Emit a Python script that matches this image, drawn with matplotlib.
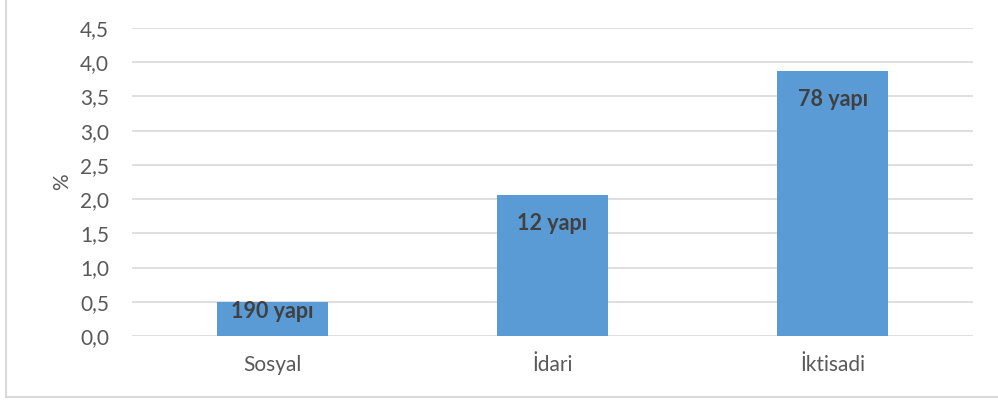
import matplotlib.pyplot as plt
from matplotlib.lines import Line2D

categories = ['Sosyal', 'İdari', 'İktisadi']
values = [0.49, 2.06, 3.87]
labels = ['190 yapı', '12 yapı', '78 yapı']
yticks = [0.0, 0.5, 1.0, 1.5, 2.0, 2.5, 3.0, 3.5, 4.0, 4.5]

plt.rcParams['font.family'] = ['Lato', 'DejaVu Sans']

fig = plt.figure(figsize=(9.98, 4.05), dpi=100)
ax = fig.add_axes([132/998, (405-336)/405, (973-132)/998, (336-28)/405])

x = range(len(categories))
ax.bar(x, values, width=0.395, color='#5b9bd5', zorder=3)

# labels inside bar top (clamped for short bars)
for i, (v, t) in enumerate(zip(values, labels)):
    y = max(v - 0.41, 0.36)
    ax.text(i, y, t, ha='center', va='center', fontsize=15.5,
            fontweight='bold', color='#404040', zorder=4)

ax.set_xlim(-0.5, 2.5)
ax.set_ylim(0, 4.5)
ax.set_yticks(yticks)
ax.set_yticklabels([('%.1f' % t).replace('.', ',') for t in yticks])
ax.set_xticks(list(x))
ax.set_xticklabels(categories)
ax.tick_params(axis='both', length=0, labelsize=15, colors='#595959')
ax.tick_params(axis='y', pad=16.5)
ax.tick_params(axis='x', pad=14)
ax.yaxis.grid(True, color='#d9d9d9', linewidth=1.2, zorder=0)
for s in ax.spines.values():
    s.set_visible(False)
ax.set_ylabel('%', fontsize=15, color='#595959', labelpad=6)

# chart border (left and bottom)
fig.add_artist(Line2D([5.5/998, 5.5/998], [(405-397)/405, 1], color='#d9d9d9', lw=1.5, transform=fig.transFigure))
fig.add_artist(Line2D([5.5/998, 1], [(405-397)/405, (405-397)/405], color='#d9d9d9', lw=1.5, transform=fig.transFigure))

plt.savefig('out.png', dpi=100)
